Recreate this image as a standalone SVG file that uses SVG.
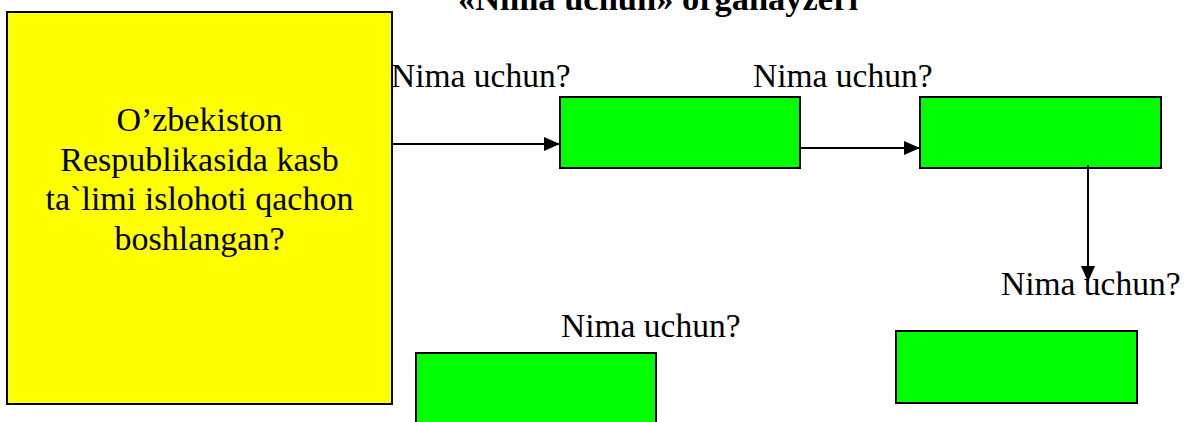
<svg xmlns="http://www.w3.org/2000/svg" width="1187" height="422" viewBox="0 0 1187 422">
<style>
.box{stroke:#000;stroke-width:2}
.yellow{fill:#ffff00}
.green{fill:#00ff00}
.lbl{font-family:"Liberation Serif","Times New Roman",serif;font-size:33.5px;fill:#000}
.q{font-family:"Liberation Serif","Times New Roman",serif;font-size:34px;fill:#000;text-anchor:middle}
.title{font-family:"Liberation Serif","Times New Roman",serif;font-size:34px;font-weight:bold;fill:#000;text-anchor:middle}
.conn{stroke:#000;stroke-width:2;fill:none}
</style>
<defs>
<marker id="ah" viewBox="0 0 16 14" refX="16" refY="7" markerWidth="16" markerHeight="14" markerUnits="userSpaceOnUse" orient="auto">
<path d="M0,0 L16,7 L0,14 Z" fill="#000"/>
</marker>
</defs>
<rect width="1187" height="422" fill="#fff"/>
<text class="title" x="658" y="10" textLength="400" lengthAdjust="spacingAndGlyphs">«Nima uchun» organayzeri</text>
<g id="node-question">
<rect class="box yellow" x="7" y="12" width="385" height="392"/>
<text class="q" x="199.5" y="131">O’zbekiston</text>
<text class="q" x="199.5" y="170.5">Respublikasida kasb</text>
<text class="q" x="199.5" y="210">ta`limi islohoti qachon</text>
<text class="q" x="199.5" y="249.5">boshlangan?</text>
</g>
<g id="node-answer1">
<rect class="box green" x="560" y="97" width="240" height="71"/>
</g>
<g id="node-answer2">
<rect class="box green" x="920" y="97" width="241" height="71"/>
</g>
<g id="node-answer3">
<rect class="box green" x="896" y="331" width="241" height="72"/>
</g>
<g id="node-answer4">
<rect class="box green" x="416" y="353" width="240" height="80"/>
</g>
<g id="connectors">
<line class="conn" x1="392" y1="144" x2="560" y2="144" marker-end="url(#ah)"/>
<line class="conn" x1="800" y1="148" x2="920" y2="148" marker-end="url(#ah)"/>
<line class="conn" x1="1088" y1="165" x2="1088" y2="282" marker-end="url(#ah)"/>
</g>
<g id="labels">
<text class="lbl" x="391" y="87">Nima uchun?</text>
<text class="lbl" x="753" y="87">Nima uchun?</text>
<text class="lbl" x="1001" y="295">Nima uchun?</text>
<text class="lbl" x="561" y="337">Nima uchun?</text>
</g>
</svg>
